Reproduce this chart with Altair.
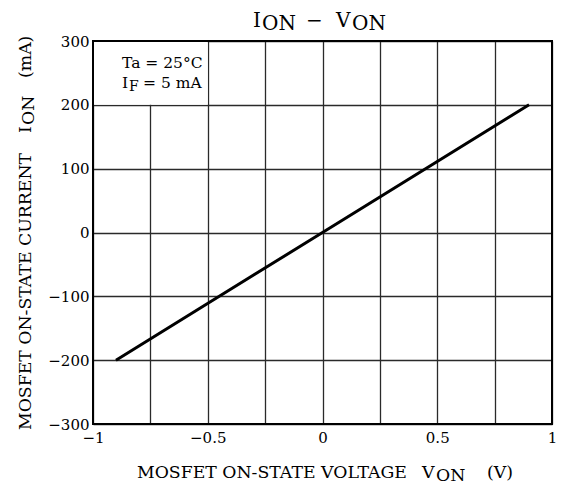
import altair as alt
import pandas as pd

# ---- data ----
voltage = [-0.9, 0.0, 0.9]          # V_ON (V)
current = [-200, 0, 200]            # I_ON (mA)
x_domain = [-1.0, 1.0]
y_domain = [-300, 300]
x_grid = [-1.0, -0.75, -0.5, -0.25, 0.0, 0.25, 0.5, 0.75, 1.0]
y_grid = [-300, -250, -200, -150, -100, -50, 0, 50, 100, 150, 200, 250, 300]
legend_box_x = [-1.0, -0.5]
legend_box_y = [200, 300]

FONT = "DejaVu Serif"
W, H = 459, 383

line_df = pd.DataFrame({"V": voltage, "I": current})
box_df = pd.DataFrame({"x": [legend_box_x[0]], "x2": [legend_box_x[1]],
                       "y": [legend_box_y[0]], "y2": [legend_box_y[1]]})
frame_df = pd.DataFrame({"x": [x_domain[0]], "x2": [x_domain[1]],
                         "y": [y_domain[0]], "y2": [y_domain[1]]})

xs = alt.Scale(domain=x_domain, nice=False, zero=False)
ys = alt.Scale(domain=y_domain, nice=False, zero=False)

x_axis = alt.Axis(values=x_grid, title=None, grid=True, gridColor="#2a2a2a",
                  gridWidth=1.3, domain=False, ticks=False, labelPadding=6,
                  labelFont=FONT, labelFontSize=15, labelColor="black",
                  labelFlush=False, labelOverlap=False,
                  labelExpr="abs(datum.value % 0.5) < 1e-9 ? (datum.value < 0 ? '\u2212' : '') + format(abs(datum.value), '') : ''")
y_axis = alt.Axis(values=y_grid, title=None, grid=True, gridColor="#2a2a2a",
                  gridWidth=1.3, domain=False, ticks=False, labelPadding=4,
                  labelFont=FONT, labelFontSize=15, labelColor="black",
                  labelOverlap=False,
                  labelExpr="datum.value % 100 == 0 ? (datum.value < 0 ? '\u2212' : '') + format(abs(datum.value), '') : ''")

base_grid = alt.Chart(line_df).mark_line(opacity=0).encode(
    x=alt.X("V:Q", scale=xs, axis=x_axis),
    y=alt.Y("I:Q", scale=ys, axis=y_axis),
)

box = alt.Chart(box_df).mark_rect(fill="white").encode(
    x=alt.X("x:Q", scale=xs), x2="x2", y=alt.Y("y:Q", scale=ys), y2="y2")

line = alt.Chart(line_df).mark_line(color="black", strokeWidth=3).encode(
    x=alt.X("V:Q", scale=xs), y=alt.Y("I:Q", scale=ys))

frame = alt.Chart(frame_df).mark_rect(fillOpacity=0, stroke="black", strokeWidth=2).encode(
    x=alt.X("x:Q", scale=xs), x2="x2", y=alt.Y("y:Q", scale=ys), y2="y2")


def txt(s, x, y, size, angle=0):
    return alt.Chart(pd.DataFrame({"a": [0]})).mark_text(
        font=FONT, fontSize=size, color="black", align="left",
        baseline="alphabetic", angle=angle).encode(
        text=alt.value(s), x=alt.value(x), y=alt.value(y))


texts = [
    # title  I_ON − V_ON
    txt("I", 160, -14, 20), txt("ON", 169, -11, 20),
    txt("\u2212", 213, -14, 20),
    txt("V", 243, -14, 20), txt("ON", 259, -11, 20),
    # legend
    txt("Ta = 25\u00b0C", 29, 27, 15.5),
    txt("I", 29, 47, 15.5), txt("F", 36, 50, 14), txt("= 5 mA", 50, 47, 15.5),
    # x title
    txt("MOSFET ON-STATE VOLTAGE", 44, 437, 17.3),
    txt("V", 329, 437, 17.3), txt("ON", 343, 440, 17.3),
    txt("(V)", 394, 437, 17.3),
    # y title (rotated)
    txt("MOSFET ON-STATE CURRENT", -62, 389, 17.3, 270),
    txt("I", -62, 92, 17.3, 270), txt("ON", -59, 84, 17.3, 270),
    txt("(mA)", -62, 37, 17.3, 270),
]

chart = alt.layer(base_grid, box, line, frame, *texts).properties(
    width=W, height=H,
    autosize=alt.AutoSizeParams(type="none"),
    padding={"left": 85, "top": 33, "right": 18, "bottom": 62},
).configure_view(stroke=None).configure(background="white")

chart.save("out.html", embed_options={"renderer": "svg", "actions": False})
